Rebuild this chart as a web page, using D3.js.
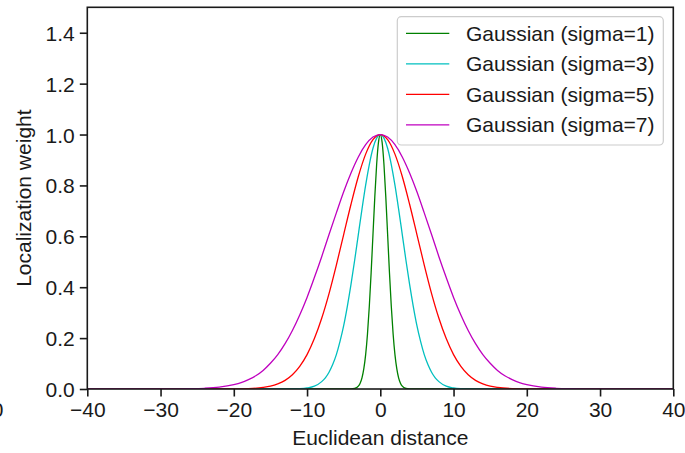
<!DOCTYPE html>
<html>
<head>
<meta charset="utf-8">
<script src="https://cdn.jsdelivr.net/npm/d3@7"></script>
<style>
  html, body { margin: 0; padding: 0; background: #fff; }
  svg { display: block; }
  text { font-family: "Liberation Sans", Arial, sans-serif; fill: #1a1a1a; }
</style>
</head>
<body>
<svg id="chart" width="685" height="453"></svg>
<script>
// Localization weight vs. distance for four Gaussian kernels
const seriesNames = ["Gaussian (sigma=1)", "Gaussian (sigma=3)", "Gaussian (sigma=5)", "Gaussian (sigma=7)"];
const seriesColors = ["#008000", "#00bfbf", "#ff0000", "#bf00bf"];

const xSigma1 = [-40, -4, -3.5, -3, -2.75, -2.5, -2.25, -2, -1.75, -1.5, -1.25, -1, -0.75, -0.5, -0.25, 0,
                 0.25, 0.5, 0.75, 1, 1.25, 1.5, 1.75, 2, 2.25, 2.5, 2.75, 3, 3.5, 4, 40];
const ySigma1 = [0, 0, 0.002, 0.011, 0.023, 0.044, 0.080, 0.135, 0.216, 0.325, 0.458, 0.607, 0.755, 0.882, 0.969, 1,
                 0.969, 0.882, 0.755, 0.607, 0.458, 0.325, 0.216, 0.135, 0.080, 0.044, 0.023, 0.011, 0.002, 0, 0];

const xSigma3 = [-40, -12, -11, -10, -9, -8, -7.5, -7, -6.5, -6, -5.5, -5, -4.5, -4, -3.5, -3, -2.5, -2, -1.5, -1, -0.5, 0,
                 0.5, 1, 1.5, 2, 2.5, 3, 3.5, 4, 4.5, 5, 5.5, 6, 6.5, 7, 7.5, 8, 9, 10, 11, 12, 40];
const ySigma3 = [0, 0, 0.001, 0.004, 0.011, 0.029, 0.044, 0.066, 0.096, 0.135, 0.187, 0.249, 0.325, 0.411, 0.506, 0.607, 0.707, 0.801, 0.882, 0.946, 0.986, 1,
                 0.986, 0.946, 0.882, 0.801, 0.707, 0.607, 0.506, 0.411, 0.325, 0.249, 0.187, 0.135, 0.096, 0.066, 0.044, 0.029, 0.011, 0.004, 0.001, 0, 0];

const xSigma5 = [-40, -22, -20, -18, -16, -15, -14, -13, -12, -11, -10, -9, -8, -7, -6, -5, -4, -3, -2, -1, 0,
                 1, 2, 3, 4, 5, 6, 7, 8, 9, 10, 11, 12, 13, 14, 15, 16, 18, 20, 22, 40];
const ySigma5 = [0, 0, 0.0003, 0.0015, 0.006, 0.011, 0.020, 0.034, 0.056, 0.089, 0.135, 0.198, 0.278, 0.375, 0.487, 0.607, 0.726, 0.835, 0.923, 0.980, 1,
                 0.980, 0.923, 0.835, 0.726, 0.607, 0.487, 0.375, 0.278, 0.198, 0.135, 0.089, 0.056, 0.034, 0.020, 0.011, 0.006, 0.0015, 0.0003, 0, 0];

const xSigma7 = [-40, -30, -28, -26, -24, -22, -20, -19, -18, -17, -16, -15, -14, -13, -12, -11, -10, -9, -8, -7, -6, -5, -4, -3, -2, -1, 0,
                 1, 2, 3, 4, 5, 6, 7, 8, 9, 10, 11, 12, 13, 14, 15, 16, 17, 18, 19, 20, 22, 24, 26, 28, 30, 40];
const ySigma7 = [0, 0, 0.0003, 0.001, 0.0028, 0.0072, 0.017, 0.025, 0.037, 0.052, 0.073, 0.101, 0.135, 0.178, 0.230, 0.291, 0.360, 0.438, 0.520, 0.607, 0.692, 0.775, 0.849, 0.912, 0.960, 0.990, 1,
                 0.990, 0.960, 0.912, 0.849, 0.775, 0.692, 0.607, 0.520, 0.438, 0.360, 0.291, 0.230, 0.178, 0.135, 0.101, 0.073, 0.052, 0.037, 0.025, 0.017, 0.0072, 0.0028, 0.001, 0.0003, 0, 0];

const xTicks = [-40, -30, -20, -10, 0, 10, 20, 30, 40];
const yTicks = [0.0, 0.2, 0.4, 0.6, 0.8, 1.0, 1.2, 1.4];

const seriesX = [xSigma1, xSigma3, xSigma5, xSigma7];
const seriesY = [ySigma1, ySigma3, ySigma5, ySigma7];

const series = seriesNames.map((name, i) => ({
  name,
  color: seriesColors[i],
  points: seriesX[i].map((x, j) => ({ x, y: seriesY[i][j] }))
}));

const svg = d3.select("#chart");
const plotLeft = 87.3, plotRight = 673.3, plotTop = 7.3, plotBottom = 389;
const fontSize = 21;

const x = d3.scaleLinear().domain([-40, 40]).range([plotLeft, plotRight]);
const y = d3.scaleLinear().domain([0, 1.5]).range([plotBottom, plotTop]);

// curves (clipped to the axes box)
svg.append("clipPath").attr("id", "plot-clip")
  .append("rect").attr("x", plotLeft).attr("y", plotTop)
  .attr("width", plotRight - plotLeft).attr("height", plotBottom - plotTop);

const line = d3.line().x(d => x(d.x)).y(d => y(d.y)).curve(d3.curveMonotoneX);

svg.append("g").attr("clip-path", "url(#plot-clip)")
  .selectAll("path").data(series).join("path")
  .attr("d", d => line(d.points))
  .attr("fill", "none")
  .attr("stroke", d => d.color)
  .attr("stroke-width", 1.3)
  .attr("stroke-linejoin", "round");

// axes
const xAxis = svg.append("g").attr("transform", `translate(0,${plotBottom})`)
  .call(d3.axisBottom(x).tickValues(xTicks).tickSize(7.5).tickPadding(4));
const yAxis = svg.append("g").attr("transform", `translate(${plotLeft},0)`)
  .call(d3.axisLeft(y).tickValues(yTicks).tickFormat(d3.format(".1f")).tickSize(7.5).tickPadding(5));

[xAxis, yAxis].forEach(g => {
  g.select(".domain").remove();
  g.selectAll(".tick line").attr("stroke", "#1a1a1a").attr("stroke-width", 1.6);
  g.selectAll(".tick text").attr("font-size", fontSize).attr("fill", "#1a1a1a")
    .style("font-family", '"Liberation Sans", Arial, sans-serif');
});
xAxis.selectAll(".tick text").attr("dy", null).attr("y", 28);
yAxis.selectAll(".tick text").attr("dy", "0.36em");

// axes frame
svg.append("rect")
  .attr("x", plotLeft).attr("y", plotTop)
  .attr("width", plotRight - plotLeft).attr("height", plotBottom - plotTop)
  .attr("fill", "none").attr("stroke", "#1a1a1a").attr("stroke-width", 1.6);

// axis titles
svg.append("text")
  .attr("x", (plotLeft + plotRight) / 2).attr("y", 445)
  .attr("text-anchor", "middle").attr("font-size", fontSize)
  .text("Euclidean distance");

svg.append("text")
  .attr("transform", `translate(31,${(plotTop + plotBottom) / 2}) rotate(-90)`)
  .attr("text-anchor", "middle").attr("font-size", fontSize)
  .text("Localization weight");

// edge of a neighbouring tick label
svg.append("text")
  .attr("x", 3.5).attr("y", 417)
  .attr("text-anchor", "end").attr("font-size", fontSize)
  .text("0");

// legend
const legend = svg.append("g");
legend.append("rect")
  .attr("x", 397.3).attr("y", 16.7).attr("width", 266).attr("height", 128.3)
  .attr("rx", 4).attr("ry", 4)
  .attr("fill", "#fff").attr("fill-opacity", 0.8)
  .attr("stroke", "#cccccc").attr("stroke-width", 1.2);

const rowY = [33.3, 63.8, 94.3, 124.8];
const rows = legend.selectAll("g.row").data(series).join("g")
  .attr("class", "row")
  .attr("transform", (d, i) => `translate(0,${rowY[i]})`);
rows.append("line")
  .attr("x1", 406).attr("x2", 449.3).attr("y1", 0).attr("y2", 0)
  .attr("stroke", d => d.color).attr("stroke-width", 1.3);
rows.append("text")
  .attr("x", 466).attr("y", 7.5)
  .attr("font-size", fontSize)
  .text(d => d.name);
</script>
</body>
</html>
